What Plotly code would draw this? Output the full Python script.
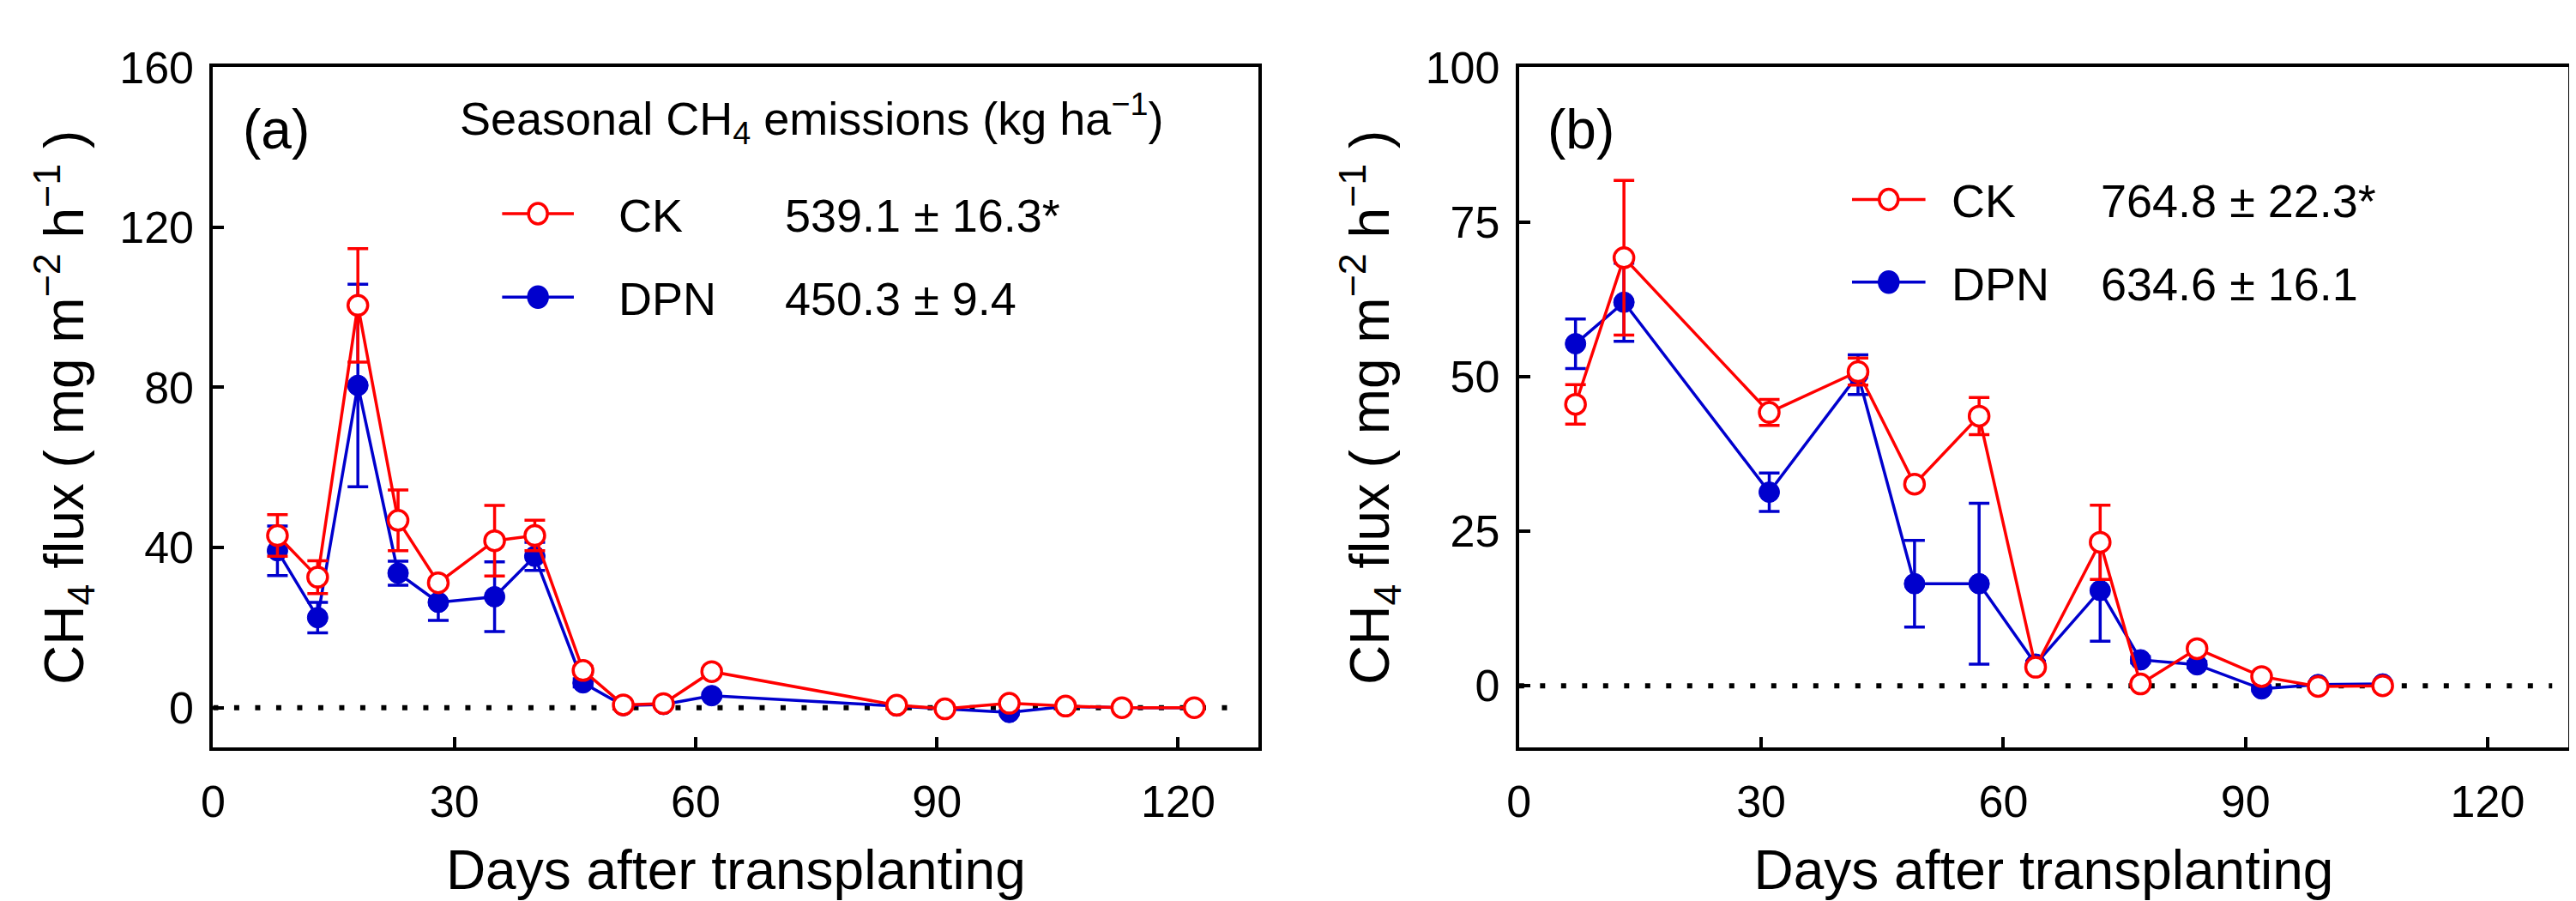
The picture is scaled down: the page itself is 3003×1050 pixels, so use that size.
import plotly.graph_objects as go

# ---------------- data ----------------
DAYS_A = [8, 13, 18, 23, 28, 35, 40, 46, 51, 56, 62, 85, 91, 99, 106, 113, 122]
CK_A = [43.0, 32.6, 100.5, 46.8, 31.2, 41.7, 43.0, 9.3, 0.7, 1.0, 9.0, 0.6, -0.3, 1.1, 0.4, 0.0, 0.0]
CK_A_ERR = [5.2, 4.1, 14.2, 7.6, 1.0, 8.8, 3.8, 1.0, 0.4, 0.4, 0.8, 0.3, 0.3, 0.4, 0.3, 0.2, 0.2]
DPN_A = [39.2, 22.5, 80.5, 33.6, 26.3, 27.7, 37.8, 6.2, 0.5, 0.8, 3.0, 0.4, -0.3, -1.2, 0.3, 0.0, 0.0]
DPN_A_ERR = [6.2, 3.8, 25.3, 3.0, 4.5, 8.7, 3.5, 1.0, 0.3, 0.3, 0.5, 0.2, 0.2, 0.5, 0.2, 0.1, 0.1]

DAYS_B = [7, 13, 31, 42, 49, 57, 64, 72, 77, 84, 92, 99, 107]
CK_B = [45.5, 69.2, 44.2, 50.8, 32.6, 43.6, 3.0, 23.2, 0.3, 6.0, 1.5, -0.1, 0.0]
CK_B_ERR = [3.2, 12.5, 2.1, 2.2, 0.5, 3.0, 0.5, 6.0, 0.3, 0.5, 0.4, 0.2, 0.2]
DPN_B = [55.3, 62.0, 31.3, 50.3, 16.5, 16.5, 3.5, 15.4, 4.2, 3.4, -0.5, 0.2, 0.3]
DPN_B_ERR = [4.0, 6.3, 3.1, 3.2, 7.0, 13.0, 0.5, 8.2, 0.5, 0.5, 0.3, 0.2, 0.2]

ZERO_X = [0, 128]
ZERO_Y = [0, 0]

X_TICKS = [0, 30, 60, 90, 120]
Y_TICKS_A = [0, 40, 80, 120, 160]
Y_TICKS_B = [0, 25, 50, 75, 100]

SERIES_NAMES = ["CK", "DPN"]
SEASONAL_A = ["539.1 ± 16.3*", "450.3 ± 9.4"]
SEASONAL_B = ["764.8 ± 22.3*", "634.6 ± 16.1"]
PANEL_LABELS = ["(a)", "(b)"]
LEGEND_HEADER = "Seasonal CH<sub>4</sub> emissions (kg ha<sup>−1</sup>)"
X_TITLE = "Days after transplanting"
Y_TITLE = "CH<sub>4</sub> flux ( mg m<sup>−2</sup> h<sup>−1</sup> )"

# ---------------- style ----------------
W, H = 3003, 1050
RED = "#FF0000"
BLUE = "#0000CD"
FONT = "Liberation Sans, Arial, sans-serif"

def px(x):
    return x / W

def py(y):
    return 1 - y / H

fig = go.Figure()

def add_panel(days, ck, ck_err, dpn, dpn_err, xa, ya):
    fig.add_trace(go.Scatter(
        x=ZERO_X, y=ZERO_Y, mode="lines", xaxis=xa, yaxis=ya,
        line=dict(color="black", width=6, dash="6px,18.5px"),
        showlegend=False, hoverinfo="skip"))
    fig.add_trace(go.Scatter(
        x=days, y=dpn, mode="lines+markers", xaxis=xa, yaxis=ya, name="DPN",
        line=dict(color=BLUE, width=3.5),
        marker=dict(symbol="circle", size=24, color=BLUE, line=dict(color=BLUE, width=1)),
        error_y=dict(type="data", array=dpn_err, visible=True, color=BLUE, thickness=3.5, width=12),
        showlegend=False))
    fig.add_trace(go.Scatter(
        x=days, y=ck, mode="lines+markers", xaxis=xa, yaxis=ya, name="CK",
        line=dict(color=RED, width=3.5),
        marker=dict(symbol="circle", size=23, color="white", line=dict(color=RED, width=3.5)),
        error_y=dict(type="data", array=ck_err, visible=True, color=RED, thickness=3.5, width=12),
        showlegend=False))

add_panel(DAYS_A, CK_A, CK_A_ERR, DPN_A, DPN_A_ERR, "x", "y")
add_panel(DAYS_B, CK_B, CK_B_ERR, DPN_B, DPN_B_ERR, "x2", "y2")

axis_common = dict(
    showline=True, linecolor="black", linewidth=4, mirror=True,
    ticks="inside", tickcolor="black", tickwidth=3.5,
    showgrid=False, zeroline=False,
    tickfont=dict(family=FONT, size=52, color="black"),
)

YDOM = [py(858), py(42.5)]
fig.update_layout(
    width=W, height=H,
    margin=dict(l=0, r=0, t=0, b=0),
    paper_bgcolor="white", plot_bgcolor="white",
    font=dict(family=FONT, color="black"),
    showlegend=False,
    xaxis=dict(domain=[px(227.5), px(1452)], range=[0, 130], tickvals=X_TICKS,
               ticklen=12, ticklabelstandoff=14,
               title=dict(text=X_TITLE, font=dict(family=FONT, size=64, color="black"), standoff=30),
               anchor="y", **axis_common),
    yaxis=dict(domain=YDOM, range=[-10, 160], tickvals=Y_TICKS_A,
               ticklen=13, ticklabelstandoff=8,
               title=dict(text=Y_TITLE, font=dict(family=FONT, size=64, color="black"), standoff=22),
               anchor="x", **axis_common),
    xaxis2=dict(domain=[px(1757), px(2986)], range=[0, 130], tickvals=X_TICKS,
                ticklen=12, ticklabelstandoff=14,
                title=dict(text=X_TITLE, font=dict(family=FONT, size=64, color="black"), standoff=30),
                anchor="y2", **axis_common),
    yaxis2=dict(domain=YDOM, range=[-10, 100], tickvals=Y_TICKS_B,
                ticklen=13, ticklabelstandoff=8,
                title=dict(text=Y_TITLE, font=dict(family=FONT, size=64, color="black"), standoff=22),
                anchor="x2", **axis_common),
)

# ---------------- legends (manual) ----------------
shapes = []
annotations = []

def legend_block(line_x0, line_x1, mx, rows_y, name_x, val_x, values):
    for yy, nm, val in zip(rows_y, SERIES_NAMES, values):
        color = RED if nm == "CK" else BLUE
        fill = "white" if nm == "CK" else BLUE
        shapes.append(dict(type="line", xref="paper", yref="paper",
                           x0=px(line_x0), x1=px(line_x1), y0=py(yy), y1=py(yy),
                           line=dict(color=color, width=3.5), layer="above"))
        shapes.append(dict(type="circle", xref="paper", yref="paper",
                           xsizemode="pixel", ysizemode="pixel",
                           xanchor=px(mx), yanchor=py(yy),
                           x0=-11, x1=11, y0=-12, y1=12,
                           fillcolor=fill, line=dict(color=color, width=3.5), layer="above"))
        annotations.append(dict(text=nm, xref="paper", yref="paper", x=px(name_x), y=py(yy + 2),
                                xanchor="left", yanchor="middle", showarrow=False,
                                font=dict(family=FONT, size=54, color="black")))
        annotations.append(dict(text=val, xref="paper", yref="paper", x=px(val_x), y=py(yy + 2),
                                xanchor="left", yanchor="middle", showarrow=False,
                                font=dict(family=FONT, size=54, color="black")))

legend_block(566, 650, 608, [218, 318], 700, 895, SEASONAL_A)
legend_block(2147, 2233, 2190, [201, 300], 2262, 2436, SEASONAL_B)

annotations.append(dict(text=LEGEND_HEADER, xref="paper", yref="paper", x=px(514), y=py(104),
                        xanchor="left", yanchor="middle", showarrow=False,
                        font=dict(family=FONT, size=54, color="black")))
annotations.append(dict(text=PANEL_LABELS[0], xref="paper", yref="paper", x=px(301), y=py(117),
                        xanchor="center", yanchor="middle", showarrow=False,
                        font=dict(family=FONT, size=64, color="black")))
annotations.append(dict(text=PANEL_LABELS[1], xref="paper", yref="paper", x=px(1830), y=py(117),
                        xanchor="center", yanchor="middle", showarrow=False,
                        font=dict(family=FONT, size=64, color="black")))

fig.update_layout(shapes=shapes, annotations=annotations)

fig.write_html("out.html")
